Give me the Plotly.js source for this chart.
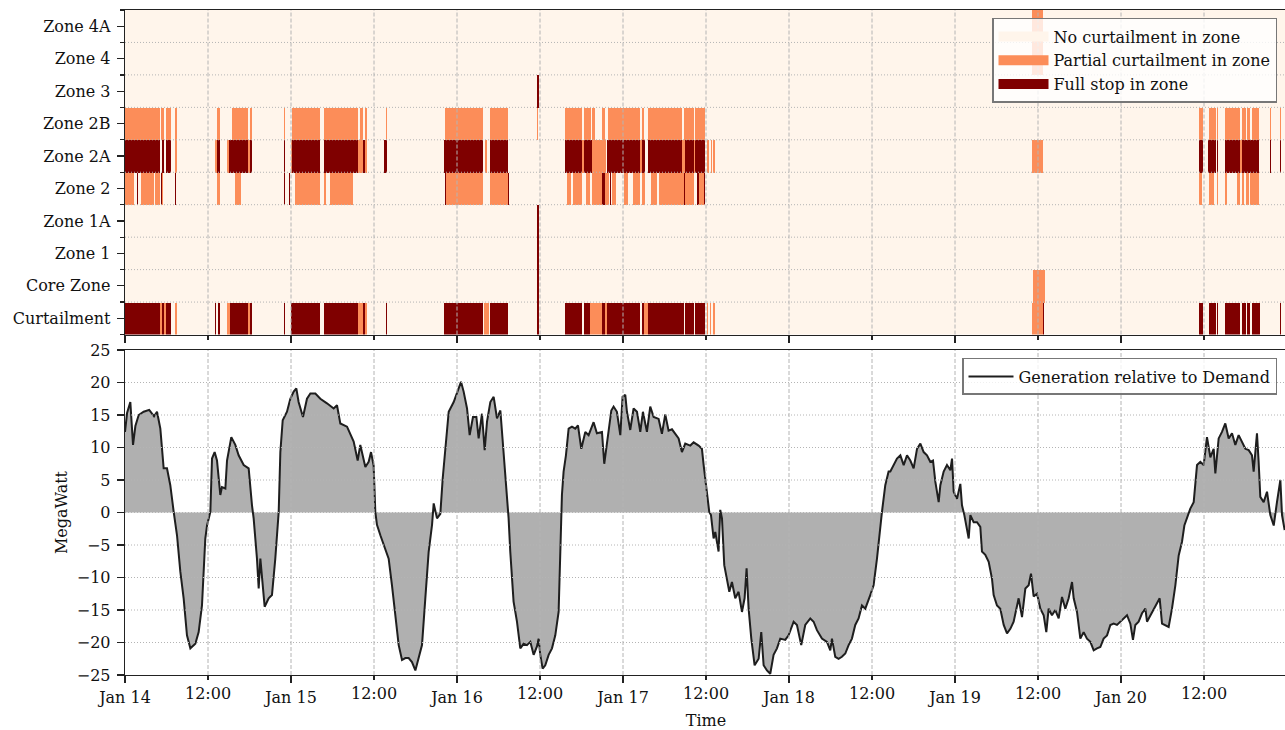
<!DOCTYPE html>
<html><head><meta charset="utf-8">
<script src="https://cdn.plot.ly/plotly-3.0.1.min.js"></script>
<style>html,body{margin:0;padding:0;overflow:hidden;background:#fff}</style>
</head><body><div id="chart"></div>
<script>
// ---------- categories / labels ----------
const zoneNames = ['Curtailment','Core Zone','Zone 1','Zone 1A','Zone 2','Zone 2A','Zone 2B','Zone 3','Zone 4','Zone 4A'];
const levelNames = ['No curtailment in zone','Partial curtailment in zone','Full stop in zone'];
const dayHours = [0,24,48,72,96,120,144];
const dayLabels = ['Jan 14','Jan 15','Jan 16','Jan 17','Jan 18','Jan 19','Jan 20'];
const noonHours = [12,36,60,84,108,132,156];
const noonLabels = ['12:00','12:00','12:00','12:00','12:00','12:00','12:00'];

// ---------- curtailment runs: [start hour, end hour, level] (hours since Jan 14 00:00) ----------
const curtailmentRuns = [[0,5.01,2],[5.1,5.3,1],[5.35,5.59,2],[5.59,5.93,1],[5.93,6.55,2],[7.27,7.51,1],[12.96,13.15,2],[13.4,13.78,2],[14.75,15.22,1],[15.22,17.87,2],[17.87,18.1,1],[18.1,18.45,2],[22.94,23.18,2],[24.0,28.24,2],[28.72,33.78,2],[33.78,34.41,1],[34.41,34.65,2],[34.65,34.98,1],[37.63,37.87,2],[46.17,51.71,2],[51.85,52.58,1],[52.82,55.37,2],[59.5,59.8,2],[63.56,66.06,2],[66.3,67.27,2],[67.27,68.96,1],[68.96,69.44,2],[69.44,69.68,1],[69.68,74.5,2],[74.74,75.12,2],[75.12,75.61,1],[75.61,80.76,2],[81.0,82.21,2],[82.45,83.9,2],[84.1,84.3,1],[84.6,84.75,1],[85.0,85.35,1],[131.18,132.72,1],[132.72,132.92,2],[155.37,155.95,2],[156.67,157.64,2],[157.88,158.12,2],[159.08,161.25,2],[161.49,161.98,2],[162.22,162.7,2],[162.94,164.05,2],[165.49,165.59,2],[167.04,167.18,2]];
const coreZoneRuns = [[59.5,59.8,2],[131.37,132.96,1]];
const zone1Runs = [[59.5,59.8,2]];
const zone1ARuns = [[59.5,59.8,2]];
const zone2Runs = [[0,1.25,1],[1.73,1.83,2],[2.31,4.14,1],[4.33,5.1,1],[5.2,5.35,2],[5.35,5.5,1],[6.3,6.45,2],[7.27,7.4,2],[12.96,13.06,2],[13.3,13.68,1],[15.95,16.77,1],[22.94,23.13,2],[23.75,23.85,2],[24.58,28.24,1],[28.72,29.06,1],[29.68,32.96,1],[46.31,46.45,2],[46.45,51.71,1],[52.82,55.3,1],[55.3,55.47,2],[63.56,63.7,2],[63.8,64.38,1],[64.86,65.97,1],[66.55,67.27,1],[67.6,68.96,1],[68.96,69.34,2],[69.34,69.92,1],[70.07,70.31,2],[70.4,70.89,1],[72.09,72.72,1],[72.8,72.95,2],[73.53,74.5,1],[74.74,75.22,1],[76.0,76.9,1],[77.25,80.76,1],[80.76,81.0,2],[81.0,82.21,1],[82.69,82.93,2],[82.93,83.66,1],[83.66,83.9,2],[155.37,155.71,1],[156.67,157.4,1],[157.88,158.03,1],[159.08,159.32,1],[160.77,161.25,1],[161.49,161.73,1],[161.98,162.46,1],[162.7,164.0,1],[165.49,165.59,1]];
const zone2ARuns = [[0,5.01,2],[5.3,5.6,2],[5.93,6.55,2],[7.27,7.51,1],[13.05,13.3,1],[13.3,13.78,2],[14.75,15.0,1],[15.0,17.87,2],[17.87,18.1,1],[18.1,18.45,2],[22.94,23.18,2],[24.0,24.14,1],[24.14,28.24,2],[28.72,33.78,2],[33.78,34.41,1],[34.41,34.65,2],[34.65,34.98,1],[37.53,37.87,2],[46.17,51.71,2],[52.1,52.3,1],[52.82,55.37,2],[63.56,66.06,2],[66.06,66.4,1],[66.4,67.6,2],[67.6,69.6,1],[69.68,74.5,2],[74.5,74.74,1],[74.74,75.2,2],[75.6,80.52,2],[80.52,80.9,1],[80.9,82.21,2],[82.21,82.45,1],[82.45,83.9,2],[84.1,84.4,1],[84.7,84.9,1],[85.1,85.35,1],[131.18,132.77,1],[155.37,155.95,2],[156.6,157.64,2],[157.88,158.12,2],[159.03,161.25,2],[161.25,161.49,1],[161.49,164.03,2],[165.49,165.63,2],[167.04,167.18,2]];
const zone2BRuns = [[0,5.01,1],[5.25,5.59,1],[5.93,6.55,1],[7.27,7.51,1],[13.3,13.68,1],[15.46,17.87,1],[18.1,18.45,1],[23.03,23.13,1],[24.14,28.24,1],[28.72,33.78,1],[33.93,34.41,1],[34.65,34.98,1],[37.63,37.87,1],[46.31,51.71,1],[52.82,55.37,1],[59.56,59.7,1],[63.56,66.06,1],[66.4,67.41,1],[67.6,67.9,1],[68.96,69.44,1],[69.82,74.5,1],[74.74,75.12,1],[75.7,80.52,1],[80.76,82.21,1],[82.45,83.8,1],[155.37,155.95,1],[156.67,157.64,1],[157.88,158.12,1],[159.08,161.25,1],[161.49,161.98,1],[162.22,162.7,1],[162.94,164.0,1],[165.49,165.68,1],[167.04,167.18,1]];
const zone3Runs = [[59.5,59.8,2]];
const zone4Runs = [[131.18,132.77,1]];
const zone4ARuns = [[131.18,132.77,1]];

// ---------- generation relative to demand (hours since Jan 14 00:00, MW) ----------
const genHours = [0,0.3,0.77,1.16,1.5,1.98,2.7,3.5,4.2,4.63,5.11,5.59,6.07,6.55,7.04,7.52,8.0,8.48,8.96,9.45,10.17,10.65,11.13,11.61,11.86,12.34,12.58,12.96,13.3,13.78,14.02,14.51,14.75,15.37,15.95,16.43,17.16,17.88,18.36,18.6,19.08,19.33,19.57,19.81,20.19,20.77,21.25,21.73,22.22,22.46,22.8,23.42,23.9,24.39,24.77,25.1,25.73,26.31,26.8,27.52,28.24,29.2,30.17,30.65,31.13,32.1,33.06,33.64,34.02,34.75,35.23,35.57,35.95,36.19,36.43,36.92,37.4,38.12,38.6,39.08,39.57,40.05,40.53,41.01,41.49,41.98,42.46,42.94,43.42,43.9,44.39,44.63,45.11,45.59,45.93,46.31,46.8,47.52,48.24,48.58,48.96,49.45,49.83,50.31,50.8,51.13,51.61,52.0,52.34,52.82,53.3,53.78,54.27,54.75,
55.22,55.46,55.7,56.18,56.67,57.15,57.63,58.11,58.6,59.08,59.56,59.8,60.04,60.38,60.76,61.25,61.73,62.21,62.69,62.93,63.17,63.41,63.75,64.14,64.62,65.1,65.49,65.97,66.55,67.03,67.75,68.23,68.96,69.29,69.68,70.31,70.64,71.12,71.61,71.94,72.33,72.57,73.05,73.53,74.02,74.5,74.88,75.46,75.94,76.43,77.15,77.63,78.11,78.59,79.08,79.56,80.04,80.52,81.0,81.73,82.21,82.93,83.41,83.66,84.14,84.47,84.72,85.1,85.34,85.82,86.06,86.31,86.64,87.03,87.37,87.75,88.23,88.71,89.2,89.58,89.87,90.16,90.55,91.03,91.61,91.99,92.33,92.81,93.29,93.77,94.26,94.74,95.46,95.94,96.67,97.15,97.77,98.35,99.08,99.56,100.04,100.76,101.49,101.97,102.21,102.69,103.17,103.65,104.14,104.62,105.1,105.58,106.06,106.55,107.03,107.75,108.23,108.72,109.2,109.44,109.92,110.4,
110.65,111.13,111.61,112.1,112.58,113.06,113.54,114.02,114.51,114.99,115.47,115.95,116.43,116.82,117.16,117.64,117.88,118.36,118.84,119.33,119.57,119.81,120.29,120.77,121.01,121.35,121.64,121.98,122.22,122.7,123.18,123.66,123.9,124.38,124.87,125.35,125.59,126.07,126.55,127.04,127.52,128.0,128.48,128.96,129.2,129.69,130.17,130.65,130.99,131.37,131.86,132.34,132.82,133.2,133.54,134.02,134.5,134.99,135.47,135.95,136.43,136.92,137.16,137.64,138.12,138.6,139.08,139.57,140.05,140.53,141.01,141.49,141.98,142.46,142.94,143.42,143.9,144.39,144.87,145.35,145.73,146.07,146.55,147.04,147.52,147.76,148.24,148.72,149.2,149.59,149.93,150.41,150.89,151.37,151.86,152.34,152.82,153.16,153.54,154.02,154.51,154.99,155.47,155.95,156.43,156.92,157.4,157.64,158.12,158.6,159.08,159.57,160.05,160.53,161.01,161.49,161.98,162.46,162.94,163.18,163.66,163.9,164.14,164.63,165.11,165.59,166.08,166.55,167.04,167.28,167.66];
const genMW = [12.4,15.3,17.0,10.4,13.3,15.0,15.5,15.8,14.8,15.5,12.9,6.8,6.8,4.2,0.1,-3.5,-9.1,-13.2,-18.9,-20.9,-20.2,-18.4,-14.3,-4.0,-2.0,0.1,8.3,9.3,8.0,2.7,3.9,3.7,8.0,11.6,10.4,8.8,7.3,6.8,1.1,-0.9,-7.1,-11.7,-7.1,-10.2,-14.5,-13.2,-12.7,-7.1,0.1,9.3,14.2,15.5,17.5,18.6,19.1,17.0,14.7,17.5,18.3,18.3,17.5,16.8,16.0,16.5,13.7,13.2,10.9,8.0,10.4,7.0,7.8,9.3,7.2,0.1,-1.9,-3.5,-5.0,-7.1,-11.2,-15.3,-20.4,-22.7,-22.4,-22.4,-23.0,-24.3,-22.4,-20.4,-13.2,-6.1,-1.9,1.4,-0.9,-0.2,5.2,9.3,15.5,17.0,19.1,20.1,18.6,16.0,11.9,14.7,14.7,11.4,15.2,9.6,14.0,17.0,17.8,14.5,15.7,9.3,
2.7,-0.9,-6.0,-13.7,-16.8,-20.9,-20.2,-20.4,-19.9,-21.9,-20.6,-19.4,-21.9,-24.0,-23.5,-21.9,-20.9,-18.9,-15.3,-7.6,2.7,6.3,8.8,12.9,13.2,12.9,13.4,9.8,12.4,11.9,13.9,12.2,12.4,7.5,10.4,15.7,16.3,15.5,11.9,17.8,18.1,15.5,12.7,16.0,15.5,12.4,15.5,12.4,16.3,14.7,14.4,12.1,15.1,12.6,12.8,12.1,11.4,9.3,10.6,10.3,10.8,10.3,9.8,7.3,3.2,0.1,-0.4,-4.0,-3.0,-6.0,0.4,-0.9,-8.1,-10.2,-12.2,-10.7,-13.2,-12.2,-15.3,-13.2,-8.6,-14.8,-19.4,-23.5,-22.5,-18.4,-23.5,-24.3,-24.8,-21.9,-20.9,-19.4,-19.6,-18.9,-16.8,-17.3,-20.4,-17.3,-16.3,-16.8,-18.1,-19.4,-19.9,-21.2,-19.4,-22.2,-22.5,-22.2,-21.7,-20.4,-19.4,-17.3,-16.3,-14.3,-14.8,-12.7,-11.2,-7.1,-1.5,0.1,4.2,6.3,
6.3,7.3,8.3,8.8,7.3,8.8,8.0,6.8,9.8,10.6,9.3,8.8,7.8,8.0,4.7,1.6,4.2,6.3,7.3,6.5,8.3,3.2,2.1,4.4,1.1,-0.4,-1.9,-4.0,-0.4,-1.5,-1.5,-2.2,-6.0,-6.5,-7.6,-10.2,-12.7,-14.3,-14.8,-17.3,-18.6,-17.9,-16.8,-14.3,-13.2,-16.1,-11.7,-11.2,-9.4,-12.9,-12.5,-14.8,-15.8,-18.4,-14.8,-15.8,-15.0,-16.3,-13.0,-14.8,-13.2,-10.7,-13.2,-15.3,-19.4,-18.4,-19.4,-19.9,-21.2,-20.9,-20.7,-19.4,-18.9,-17.3,-17.1,-17.3,-16.8,-16.3,-15.8,-17.1,-19.6,-17.3,-16.8,-15.5,-14.8,-16.8,-15.8,-14.8,-14.0,-13.2,-17.1,-17.3,-17.6,-14.8,-11.2,-6.6,-4.5,-2.0,-0.9,0.6,1.6,7.3,7.8,7.3,11.6,8.5,9.8,6.0,11.4,12.4,13.7,11.4,12.2,10.4,11.9,10.9,9.8,9.6,8.8,6.3,12.2,7.8,2.4,1.6,3.2,-0.4,-2.0,1.6,5.0,-0.4,-2.7];
const genName = 'Generation relative to Demand';

// ---------- helpers ----------
const T0 = Date.UTC(2023, 0, 14);
function stamp(h) {
  const d = new Date(T0 + Math.round(h * 3600000));
  const p = n => String(n).padStart(2, '0');
  return d.getUTCFullYear() + '-' + p(d.getUTCMonth() + 1) + '-' + p(d.getUTCDate()) + ' ' +
    p(d.getUTCHours()) + ':' + p(d.getUTCMinutes()) + ':' + p(d.getUTCSeconds());
}
const levelColors = ['#fff5eb', '#fc8d59', '#7f0000'];
const rowRuns = [curtailmentRuns, coreZoneRuns, zone1Runs, zone1ARuns, zone2Runs, zone2ARuns, zone2BRuns, zone3Runs, zone4Runs, zone4ARuns];

// heatmap grid (5-minute cells) built from the runs
const STEP = 5 / 60, NCELL = Math.round(168 / STEP);
const cellX = [];
for (let i = 0; i < NCELL; i++) cellX.push(stamp((i + 0.5) * STEP));
const zGrid = rowRuns.map(runs => {
  const row = new Array(NCELL).fill(0);
  runs.forEach(([s, e, lv]) => {
    for (let i = 0; i < NCELL; i++) {
      const c = (i + 0.5) * STEP;
      if (c >= s && c < e) row[i] = lv;
    }
  });
  return row;
});

const traces = [];
traces.push({
  type: 'heatmap', x: cellX, y: zoneNames.map((_, i) => i), z: zGrid,
  zmin: 0, zmax: 2, showscale: false, hoverinfo: 'skip', showlegend: false,
  colorscale: [[0, levelColors[0]], [0.3333, levelColors[0]], [0.3333, levelColors[1]], [0.6667, levelColors[1]], [0.6667, levelColors[2]], [1, levelColors[2]]],
  xaxis: 'x', yaxis: 'y'
});
levelNames.forEach((nm, i) => traces.push({
  type: 'scatter', mode: 'lines', x: [null], y: [null], name: nm,
  line: { color: levelColors[i], width: 10 }, xaxis: 'x', yaxis: 'y', legend: 'legend'
}));
traces.push({
  type: 'scatter', mode: 'lines', x: genHours.map(stamp), y: genMW,
  name: genName, fill: 'tozeroy', fillcolor: '#b0b0b0', showlegend: false,
  line: { color: '#1e1e1e', width: 2 }, xaxis: 'x2', yaxis: 'y2'
});
traces.push({
  type: 'scatter', mode: 'lines', x: [null], y: [null], name: genName,
  line: { color: '#1e1e1e', width: 2 }, xaxis: 'x2', yaxis: 'y2', legend: 'legend2'
});
traces.push({ type: 'scatter', x: [], y: [], xaxis: 'x3', yaxis: 'y2', showlegend: false, hoverinfo: 'skip' });

// gridlines (drawn above the marks, as in the reference)
const gridCol = '#b4b4b4';
const shapes = [];
for (let k = 0; k < zoneNames.length - 1; k++) shapes.push({ type: 'line', layer: 'above', xref: 'x domain', x0: 0, x1: 1, yref: 'y', y0: k + 0.5, y1: k + 0.5, line: { color: gridCol, width: 1, dash: '1px,2px' } });
const allHalfDays = [];
for (let h = 12; h < 168; h += 12) allHalfDays.push(h);
allHalfDays.forEach(h => {
  shapes.push({ type: 'line', layer: 'above', xref: 'x', x0: stamp(h), x1: stamp(h), yref: 'y domain', y0: 0, y1: 1, line: { color: gridCol, width: 1, dash: '4px,2px' } });
  shapes.push({ type: 'line', layer: 'above', xref: 'x2', x0: stamp(h), x1: stamp(h), yref: 'y2 domain', y0: 0, y1: 1, line: { color: gridCol, width: 1, dash: '4px,2px' } });
});
for (let v = -20; v <= 20; v += 5) shapes.push({ type: 'line', layer: 'above', xref: 'x2 domain', x0: 0, x1: 1, yref: 'y2', y0: v, y1: v, line: { color: gridCol, width: 1, dash: '1px,2px' } });

const axLine = '#222';
const xr = [stamp(0), stamp(168)];
const layout = {
  width: 1287, height: 730,
  margin: { l: 125, r: 0, t: 10, b: 55 },
  paper_bgcolor: '#fff', plot_bgcolor: '#fff',
  font: { family: 'DejaVu Serif', size: 16, color: '#111' },
  xaxis: {
    domain: [0, 1], anchor: 'y', type: 'date', range: xr,
    tickmode: 'array', tickvals: dayHours.map(stamp), showticklabels: false,
    ticks: 'outside', ticklen: 7, tickwidth: 1.2, tickcolor: axLine,
    showline: true, mirror: true, linecolor: axLine, linewidth: 1.3,
    showgrid: false, zeroline: false,
    minor: { tickmode: 'array', tickvals: noonHours.map(stamp), ticks: 'outside', ticklen: 4, tickwidth: 1.2, tickcolor: axLine, showgrid: false }
  },
  yaxis: {
    domain: [0.512, 1], anchor: 'x', range: [-0.5, 9.5],
    tickmode: 'array', tickvals: zoneNames.map((_, i) => i), ticktext: zoneNames,
    ticks: 'outside', ticklen: 7, tickwidth: 1.2, tickcolor: axLine, ticklabelstandoff: 3,
    showline: true, mirror: true, linecolor: axLine, linewidth: 1.3,
    showgrid: false, zeroline: false,
    minor: { tickmode: 'array', tickvals: zoneNames.map((_, i) => i - 0.5).concat([zoneNames.length - 0.5]), ticks: 'outside', ticklen: 4, tickwidth: 1.2, tickcolor: axLine, showgrid: false }
  },
  xaxis2: {
    domain: [0, 1], anchor: 'y2', type: 'date', range: xr,
    tickmode: 'array', tickvals: dayHours.map(stamp), ticktext: dayLabels,
    ticks: 'outside', ticklen: 7, tickwidth: 1.2, tickcolor: axLine,
    showline: true, mirror: true, linecolor: axLine, linewidth: 1.3,
    showgrid: false, zeroline: false,
    title: { text: 'Time', font: { size: 16 }, standoff: 10 }
  },
  xaxis3: {
    overlaying: 'x2', anchor: 'y2', side: 'bottom', type: 'date', range: xr,
    tickmode: 'array', tickvals: noonHours.map(stamp), ticktext: noonLabels,
    ticks: 'outside', ticklen: 4, tickwidth: 1.2, tickcolor: axLine,
    showline: false, showgrid: false, zeroline: false
  },
  yaxis2: {
    domain: [0, 0.4887], anchor: 'x2', range: [-25, 25],
    tickmode: 'array', tickvals: [-25, -20, -15, -10, -5, 0, 5, 10, 15, 20, 25],
    ticks: 'outside', ticklen: 7, tickwidth: 1.2, tickcolor: axLine, ticklabelstandoff: 3,
    showline: true, mirror: true, linecolor: axLine, linewidth: 1.3,
    showgrid: false, zeroline: false,
    title: { text: 'MegaWatt', font: { size: 16 }, standoff: 5 }
  },
  legend: {
    x: 0.9914, xanchor: 'right', y: 0.988, yanchor: 'top',
    bgcolor: 'rgba(255,255,255,0.8)', bordercolor: '#777', borderwidth: 1.5,
    font: { size: 16 }, itemwidth: 50, traceorder: 'normal'
  },
  legend2: {
    x: 0.9914, xanchor: 'right', y: 0.4767, yanchor: 'top',
    bgcolor: 'rgba(255,255,255,0.8)', bordercolor: '#777', borderwidth: 1.5,
    font: { size: 16 }, itemwidth: 45
  },
  shapes: shapes,
  showlegend: true
};
Plotly.newPlot('chart', traces, layout, { displayModeBar: false, staticPlot: true });
</script>
</body></html>
